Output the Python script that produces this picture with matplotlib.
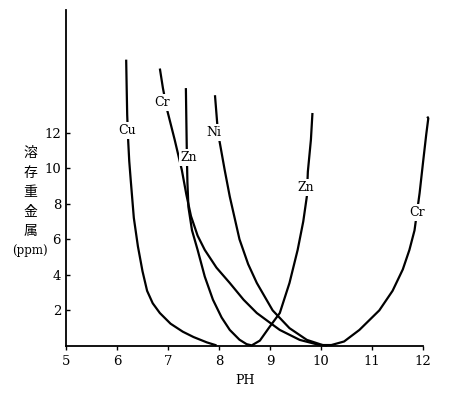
import numpy as np
import matplotlib
matplotlib.use('Agg')
import matplotlib.pyplot as plt

# curves (pH, dissolved metal ppm)
cu_x = [6.18, 6.19, 6.20, 6.22, 6.24, 6.27, 6.33, 6.41, 6.50, 6.59, 6.70, 6.84, 7.05, 7.29, 7.50, 7.76, 7.95]
cu_y = [16.1, 14.5, 13.0, 11.5, 10.4, 9.3, 7.2, 5.6, 4.2, 3.1, 2.4, 1.85, 1.25, 0.8, 0.5, 0.2, 0.03]

cr_x = [6.84, 6.90, 6.98, 7.13, 7.27, 7.36, 7.45, 7.58, 7.72, 7.95, 8.21, 8.48, 8.74, 9.00, 9.19, 9.58,
        9.97, 10.2, 10.45, 10.75, 11.14, 11.40, 11.60, 11.73, 11.83, 11.93, 12.00, 12.06, 12.10, 12.08]
cr_y = [15.6, 14.5, 13.3, 11.6, 9.9, 8.5, 7.3, 6.2, 5.4, 4.4, 3.54, 2.6, 1.85, 1.3, 0.9, 0.34,
        0.05, 0.05, 0.25, 0.9, 2.0, 3.1, 4.3, 5.4, 6.5, 8.6, 10.4, 11.9, 12.8, 12.9]

zn_x = [7.35, 7.36, 7.37, 7.38, 7.40, 7.47, 7.58, 7.72, 7.88, 8.05, 8.21, 8.40, 8.54, 8.64,
        8.80, 8.99, 9.19, 9.38, 9.54, 9.65, 9.72, 9.74, 9.80, 9.83]
zn_y = [14.5, 12.5, 10.6, 9.2, 7.8, 6.5, 5.4, 3.9, 2.6, 1.6, 0.9, 0.35, 0.1, 0.03,
        0.3, 1.07, 1.85, 3.54, 5.4, 7.0, 8.4, 9.8, 11.6, 13.1]

ni_x = [7.92, 7.97, 8.01, 8.11, 8.21, 8.40, 8.57, 8.74, 9.05, 9.38, 9.72, 10.03, 10.12]
ni_y = [14.1, 12.3, 11.5, 9.9, 8.4, 6.0, 4.6, 3.54, 2.0, 1.0, 0.34, 0.05, 0.02]

# curve labels: (text, pH, ppm)
labels = [('Cu', 6.19, 12.1), ('Cr', 6.88, 13.7), ('Zn', 7.41, 10.6),
          ('Ni', 7.90, 12.0), ('Zn', 9.70, 8.9), ('Cr', 11.88, 7.5)]

x_ticks = [5, 6, 7, 8, 9, 10, 11, 12]
y_ticks = [2, 4, 6, 8, 10, 12]

fig = plt.figure(figsize=(4.58, 3.94), dpi=100)
ax = fig.add_axes([0.144, 0.122, 0.78, 0.853])

for xs, ys in [(cu_x, cu_y), (cr_x, cr_y), (zn_x, zn_y), (ni_x, ni_y)]:
    ax.plot(xs, ys, color='black', lw=1.6, solid_capstyle='butt', clip_on=False)

for txt, lx, ly in labels:
    ax.text(lx, ly, txt, ha='center', va='center', fontsize=9, family='DejaVu Serif',
            bbox=dict(facecolor='white', edgecolor='none', pad=1.5))

ax.set_xlim(5, 12)
ax.set_ylim(0, 18.9)
ax.set_xticks(x_ticks)
ax.set_yticks(y_ticks)
ax.set_xticklabels([str(v) for v in x_ticks], family='DejaVu Serif', fontsize=9.5)
ax.set_yticklabels([str(v) for v in y_ticks], family='DejaVu Serif', fontsize=9.5)
ax.tick_params(axis='y', direction='in', length=3, width=1)
ax.tick_params(axis='x', direction='out', length=3, width=1)
ax.spines['top'].set_visible(False)
ax.spines['right'].set_visible(False)
ax.spines['left'].set_linewidth(1.3)
ax.spines['bottom'].set_linewidth(1.3)

ax.set_xlabel('PH', family='DejaVu Serif', fontsize=9, labelpad=4)

fig.text(0.066, 0.512, '溶\n存\n重\n金\n属', ha='center', va='center', fontsize=10,
         family='Noto Sans CJK JP', linespacing=1.5)
fig.text(0.066, 0.365, '(ppm)', ha='center', va='center', fontsize=8.5, family='DejaVu Serif')

fig.savefig('out.png', dpi=100)
